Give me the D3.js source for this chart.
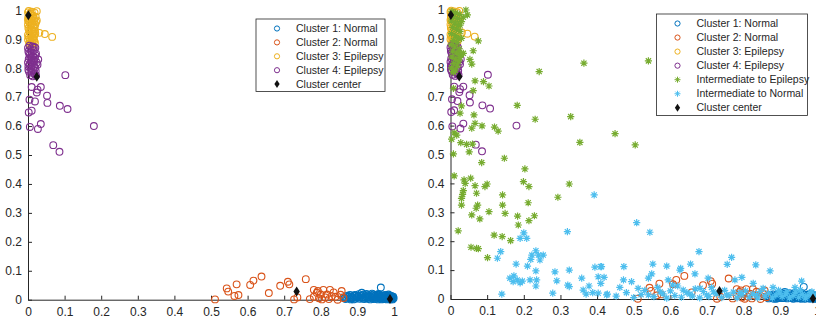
<!DOCTYPE html>
<html>
<head>
<meta charset="utf-8">
<script src="https://cdn.jsdelivr.net/npm/d3@7"></script>
<style>
  body { margin: 0; background: #fff; }
  svg { display: block; font-family: "Liberation Sans", Arial, Helvetica, sans-serif; }
  .axis path, .axis line { stroke: #262626; }
  .axis text { fill: #262626; font-size: 12px; }
</style>
</head>
<body>
<div id="chart"></div>
<script>
// ---- data ----
var tickValues = [0, 0.1, 0.2, 0.3, 0.4, 0.5, 0.6, 0.7, 0.8, 0.9, 1];
var tickLabels = ["0", "0.1", "0.2", "0.3", "0.4", "0.5", "0.6", "0.7", "0.8", "0.9", "1"];

var cluster1 = [ // Normal (blue)
  [0.862,0.008],[0.868,0.002],[0.873,0.014],[0.879,0.005],[0.884,0.011],[0.889,0.001],[0.893,0.016],[0.897,0.007],
  [0.902,0.012],[0.906,0.003],[0.911,0.015],[0.915,0.008],[0.919,0.002],[0.923,0.013],[0.927,0.006],[0.931,0.010],
  [0.935,0.001],[0.939,0.015],[0.942,0.006],[0.946,0.011],[0.950,0.003],[0.953,0.009],[0.957,0.014],[0.960,0.004],
  [0.963,0.010],[0.966,0.001],[0.969,0.007],[0.972,0.012],[0.975,0.003],[0.978,0.009],[0.981,0.001],[0.984,0.006],
  [0.987,0.011],[0.990,0.003],[0.993,0.007],[0.996,0.001],[0.999,0.005],[0.998,0.010],[0.992,0.013],[0.985,0.015],
  [0.976,0.016],[0.968,0.014],[0.955,0.017],[0.944,0.018],[0.930,0.016],[0.917,0.018],[0.904,0.019],[0.891,0.013],
  [0.880,0.016],[0.870,0.009],[0.964,0.042],[0.912,0.024],[0.925,0.020],[0.940,0.021],[0.958,0.020],[0.985,0.018],
  [0.865,0.005],[0.876,0.010],[0.886,0.006],[0.895,0.003],[0.900,0.009],[0.908,0.013],[0.913,0.004],[0.921,0.009],
  [0.929,0.003],[0.933,0.013],[0.937,0.007],[0.944,0.002],[0.948,0.014],[0.952,0.007],[0.956,0.001],[0.959,0.011],
  [0.962,0.016],[0.965,0.005],[0.971,0.002],[0.974,0.015],[0.977,0.006],[0.980,0.013],[0.983,0.003],[0.986,0.009],
  [0.989,0.014],[0.991,0.001],[0.995,0.011],[0.997,0.006],[0.882,0.001],[0.898,0.015]
];
var cluster2 = [ // Normal (orange)
  [0.511,0.001],[0.543,0.039],[0.547,0.028],[0.570,0.053],[0.564,0.013],[0.575,0.016],[0.607,0.051],[0.616,0.066],
  [0.638,0.080],[0.658,0.023],[0.689,0.048],[0.710,0.062],[0.714,0.053],[0.727,0.001],[0.736,0.008],[0.759,0.071],
  [0.781,0.034],[0.789,0.024],[0.781,0.010],[0.795,0.005],[0.800,0.018],[0.807,0.034],[0.812,0.008],[0.817,0.018],
  [0.825,0.034],[0.830,0.012],[0.840,0.010],[0.846,0.000],[0.854,0.017],[0.857,0.030],[0.862,0.006],[0.792,0.030],
  [0.803,0.001],[0.822,0.002],[0.835,0.025],[0.770,0.002]
];
var cluster3 = [ // Epilepsy (yellow)
  [0.002,0.998],[0.010,0.995],[0.018,0.992],[0.005,0.985],[0.014,0.981],[0.021,0.978],[0.001,0.972],[0.009,0.968],
  [0.017,0.964],[0.004,0.958],[0.012,0.955],[0.020,0.951],[0.007,0.946],[0.015,0.942],[0.001,0.938],[0.011,0.934],
  [0.019,0.930],[0.004,0.925],[0.013,0.921],[0.008,0.916],[0.017,0.912],[0.002,0.908],[0.010,0.904],[0.015,0.899],
  [0.005,0.895],[0.012,0.891],[0.019,0.888],[0.003,0.884],[0.009,0.880],[0.014,0.877],[0.006,0.990],[0.013,0.975],
  [0.003,0.962],[0.016,0.948],[0.008,0.929],[0.018,0.918],[0.006,0.901],[0.011,0.886],[0.000,0.950],[0.000,0.915],
  [0.000,0.993],[0.008,0.983],[0.016,0.971],[0.000,0.965],[0.007,0.953],[0.018,0.940],[0.003,0.932],[0.014,0.926],
  [0.000,0.899],[0.017,0.895],[0.007,0.889],[0.013,0.906],[0.020,0.920],[0.001,0.978],[0.022,0.960],
  [0.024,0.997],[0.024,0.965],[0.031,0.922],[0.046,0.918],[0.066,0.908]
];
var cluster4 = [ // Epilepsy (purple)
  [0.004,0.878],[0.012,0.875],[0.020,0.871],[0.007,0.866],[0.016,0.862],[0.001,0.858],[0.010,0.854],[0.022,0.850],
  [0.005,0.846],[0.014,0.842],[0.019,0.836],[0.002,0.832],[0.009,0.828],[0.017,0.824],[0.024,0.820],[0.006,0.815],
  [0.013,0.811],[0.001,0.806],[0.020,0.802],[0.008,0.798],[0.015,0.793],[0.003,0.788],[0.011,0.784],[0.018,0.780],
  [0.006,0.776],[0.013,0.772],[0.028,0.830],[0.026,0.812],[0.000,0.820],[0.010,0.840],[0.021,0.790],
  [0.000,0.870],[0.016,0.873],[0.003,0.851],[0.020,0.845],[0.011,0.821],[0.004,0.810],[0.017,0.806],[0.009,0.790],
  [0.022,0.775],[0.001,0.795],[0.015,0.830],[0.006,0.836],
  [0.102,0.776],[0.010,0.735],[0.035,0.735],[0.026,0.726],[0.024,0.716],[0.052,0.705],[0.004,0.691],[0.019,0.685],
  [0.053,0.680],[0.087,0.670],[0.108,0.659],[0.010,0.653],[0.002,0.647],[0.005,0.597],[0.035,0.607],[0.027,0.590],
  [0.180,0.600],[0.069,0.534],[0.086,0.511]
];
var interEpilepsy = [ // green asterisks
  [0.004,0.995],[0.014,0.990],[0.024,0.985],[0.008,0.976],[0.019,0.970],[0.002,0.962],[0.012,0.955],[0.022,0.948],
  [0.006,0.940],[0.016,0.933],[0.026,0.926],[0.003,0.918],[0.013,0.911],[0.021,0.903],[0.008,0.895],[0.018,0.888],
  [0.002,0.880],[0.012,0.872],[0.024,0.866],[0.006,0.858],[0.017,0.851],[0.028,0.845],[0.004,0.838],[0.014,0.830],
  [0.022,0.823],[0.009,0.815],[0.019,0.807],[0.003,0.800],[0.013,0.792],[0.008,0.785],[0.030,0.960],[0.035,0.975],
  [0.030,0.850],[0.025,0.835],
  [0.042,1.000],[0.046,0.983],[0.026,0.948],[0.030,0.902],[0.076,0.893],[0.062,0.859],[0.035,0.850],[0.053,0.829],
  [0.058,0.813],[0.008,0.787],[0.242,0.787],[0.364,0.816],[0.540,0.824],[0.067,0.755],[0.090,0.752],[0.105,0.737],
  [0.008,0.729],[0.062,0.721],[0.182,0.670],[0.030,0.668],[0.026,0.643],[0.064,0.637],[0.231,0.622],[0.328,0.631],
  [0.067,0.608],[0.086,0.599],[0.058,0.591],[0.120,0.595],[0.130,0.581],[0.449,0.572],[0.010,0.575],[0.017,0.567],
  [0.003,0.553],[0.028,0.541],[0.044,0.535],[0.060,0.536],[0.353,0.542],[0.504,0.533],[0.051,0.509],[0.008,0.502],
  [0.085,0.472],[0.147,0.487],[0.203,0.450],[0.010,0.426],[0.037,0.412],[0.055,0.418],[0.040,0.400],[0.067,0.392],
  [0.100,0.398],[0.094,0.389],[0.199,0.406],[0.214,0.389],[0.324,0.398],[0.035,0.375],[0.033,0.362],[0.071,0.366],
  [0.142,0.360],[0.030,0.348],[0.293,0.352],[0.212,0.333],[0.142,0.325],[0.030,0.325],[0.074,0.325],[0.070,0.314],
  [0.105,0.302],[0.149,0.296],[0.058,0.291],[0.183,0.287],[0.229,0.288],[0.080,0.277],[0.185,0.256],[0.214,0.271],
  [0.021,0.236],[0.119,0.221],[0.141,0.216],[0.164,0.202],[0.056,0.179],[0.071,0.175],[0.076,0.174],[0.101,0.143]
];
var interNormal = [ // light blue asterisks
  [0.392,0.360],[0.200,0.229],[0.208,0.210],[0.190,0.210],[0.319,0.233],[0.137,0.164],[0.128,0.141],[0.233,0.167],
  [0.222,0.152],[0.240,0.152],[0.253,0.152],[0.244,0.135],[0.219,0.137],[0.210,0.114],[0.179,0.121],[0.233,0.097],
  [0.162,0.072],[0.173,0.080],[0.182,0.066],[0.171,0.060],[0.190,0.056],[0.196,0.062],[0.217,0.066],[0.235,0.066],
  [0.233,0.045],[0.140,0.017],[0.285,0.094],[0.290,0.063],[0.324,0.100],[0.324,0.043],[0.320,0.048],[0.279,0.020],
  [0.358,0.072],[0.362,0.031],[0.370,0.017],[0.378,0.045],[0.394,0.110],[0.410,0.112],[0.403,0.077],[0.419,0.075],
  [0.410,0.054],[0.388,0.022],[0.403,0.020],[0.428,0.017],
  [0.508,0.264],[0.544,0.231],[0.678,0.164],[0.767,0.144],[0.755,0.120],[0.552,0.121],[0.473,0.112],[0.412,0.112],
  [0.655,0.121],[0.628,0.106],[0.590,0.114],[0.833,0.118],[0.872,0.097],[0.795,0.075],[0.776,0.066],[0.703,0.072],
  [0.667,0.087],[0.549,0.087],[0.540,0.072],[0.472,0.066],[0.494,0.060],[0.462,0.040],[0.426,0.014],[0.512,0.037],
  [0.626,0.100],[0.594,0.066],[0.606,0.048],[0.635,0.031],[0.681,0.037],[0.717,0.025],[0.826,0.054],[0.853,0.037],
  [0.958,0.062],[0.954,0.031],[0.899,0.020],[0.835,0.014],[0.754,0.014],[0.790,0.022],[0.572,0.025],[0.540,0.014],
  [0.653,0.017],[0.699,0.014],[0.918,0.025],[0.986,0.025],
  [0.452,0.010],[0.480,0.022],[0.500,0.005],[0.520,0.015],[0.530,0.030],[0.555,0.008],[0.565,0.040],[0.580,0.018],
  [0.590,0.003],[0.600,0.028],[0.612,0.012],[0.620,0.045],[0.630,0.006],[0.645,0.022],[0.660,0.010],[0.668,0.035],
  [0.680,0.004],[0.690,0.026],[0.705,0.008],[0.712,0.040],[0.725,0.018],[0.740,0.005],[0.748,0.030],[0.760,0.012],
  [0.772,0.024],[0.782,0.004],[0.795,0.015],[0.805,0.028],[0.815,0.006],[0.825,0.018],[0.838,0.004],[0.845,0.026],
  [0.858,0.010],[0.868,0.020],[0.878,0.004],[0.888,0.014],[0.895,0.030],[0.905,0.008],[0.915,0.018],[0.925,0.004],
  [0.935,0.012],[0.942,0.024],[0.950,0.006],[0.960,0.016],[0.968,0.003],[0.975,0.012],[0.982,0.022],[0.990,0.008],
  [0.997,0.015],[0.940,0.040],[0.880,0.040]
];
var centers = [[0.989,0.002],[0.734,0.028],[0.001,0.983],[0.024,0.770]];

var legendLeft = ["Cluster 1: Normal", "Cluster 2: Normal", "Cluster 3: Epilepsy", "Cluster 4: Epilepsy", "Cluster center"];
var legendRight = ["Cluster 1: Normal", "Cluster 2: Normal", "Cluster 3: Epilepsy", "Cluster 4: Epilepsy",
                   "Intermediate to Epilepsy", "Intermediate to Normal", "Cluster center"];

// MATLAB default colours
var colors = {
  c1: "#0072BD", c2: "#D95319", c3: "#EDB120", c4: "#7E2F8E",
  ie: "#77AC30", in: "#4DBEEE", center: "#111111"
};

var svg = d3.select("#chart").append("svg")
  .attr("width", 816)
  .attr("height", 324);

var asteriskPath = "M-3.6,0H3.6M0,-3.6V3.6M-2.6,-2.6L2.6,2.6M-2.6,2.6L2.6,-2.6";
var diamondPath = "M0,-5L3.2,0L0,5L-3.2,0Z";

function drawPanel(cfg) {
  var x = d3.scaleLinear().domain([0, 1]).range([cfg.x0, cfg.x1]);
  var y = d3.scaleLinear().domain([0, 1]).range([cfg.y0, cfg.y1]);
  var g = svg.append("g");

  var xAxis = d3.axisBottom(x).tickValues(tickValues)
    .tickFormat((d, i) => tickLabels[i]).tickSizeInner(-4).tickSizeOuter(0).tickPadding(7);
  var yAxis = d3.axisLeft(y).tickValues(tickValues)
    .tickFormat((d, i) => tickLabels[i]).tickSizeInner(-4).tickSizeOuter(0).tickPadding(6);

  g.append("g").attr("class", "axis x")
    .attr("transform", `translate(0,${cfg.y0})`)
    .call(xAxis);
  g.append("g").attr("class", "axis y")
    .attr("transform", `translate(${cfg.x0},0)`)
    .call(yAxis);
  g.selectAll(".axis text").attr("font-family", null);
  g.selectAll(".axis.x text").attr("dy", "0.75em");

  // clusters as open circles
  [[cluster1, colors.c1], [cluster2, colors.c2], [cluster3, colors.c3], [cluster4, colors.c4]].forEach(function (s) {
    g.append("g").selectAll("circle")
      .data(s[0])
      .enter().append("circle")
      .attr("cx", d => x(d[0]))
      .attr("cy", d => y(d[1]))
      .attr("r", 3.4)
      .style("fill", "none")
      .style("stroke", s[1])
      .style("stroke-width", 1.1);
  });

  // intermediate points as asterisks
  if (cfg.intermediate) {
    [[interEpilepsy, colors.ie], [interNormal, colors.in]].forEach(function (s) {
      g.append("g").selectAll("path")
        .data(s[0])
        .enter().append("path")
        .attr("d", asteriskPath)
        .attr("transform", d => `translate(${x(d[0])},${y(d[1])})`)
        .style("fill", "none")
        .style("stroke", s[1])
        .style("stroke-width", 1.2);
    });
  }

  // cluster centres
  g.append("g").selectAll("path")
    .data(centers)
    .enter().append("path")
    .attr("d", diamondPath)
    .attr("transform", d => `translate(${x(d[0])},${y(d[1])})`)
    .style("fill", colors.center);

  // legend
  var items = cfg.legend;
  var lg = g.append("g");
  lg.append("rect")
    .attr("x", cfg.lx).attr("y", cfg.ly)
    .attr("width", cfg.lw).attr("height", cfg.lh)
    .style("fill", "#fff").style("stroke", "#262626").style("stroke-width", 0.8);
  var keys = cfg.intermediate ? ["c1", "c2", "c3", "c4", "ie", "in", "center"] : ["c1", "c2", "c3", "c4", "center"];
  var row = lg.selectAll(".row")
    .data(items)
    .enter().append("g")
    .attr("class", "row")
    .attr("transform", (d, i) => `translate(${cfg.lx + 21},${cfg.ly + 9.5 + i * cfg.step})`);
  row.each(function (d, i) {
    var r = d3.select(this), k = keys[i];
    if (k === "center") {
      r.append("path").attr("d", "M0,-4L2.6,0L0,4L-2.6,0Z").style("fill", colors.center);
    } else if (k === "ie" || k === "in") {
      r.append("path").attr("d", "M-3,0H3M0,-3V3M-2.1,-2.1L2.1,2.1M-2.1,2.1L2.1,-2.1")
        .style("fill", "none").style("stroke", colors[k]).style("stroke-width", 1);
    } else {
      r.append("circle").attr("r", 2.6).style("fill", "none").style("stroke", colors[k]).style("stroke-width", 1);
    }
    r.append("text")
      .attr("x", 19).attr("dy", "0.35em")
      .style("font-size", "10.5px").style("fill", "#262626")
      .text(d);
  });
}

drawPanel({
  x0: 28, x1: 394, y0: 299.7, y1: 10.3, intermediate: false,
  legend: legendLeft, lx: 256, ly: 19, lw: 129, lh: 72.5, step: 13.9
});
drawPanel({
  x0: 450.5, x1: 817, y0: 299, y1: 10, intermediate: true,
  legend: legendRight, lx: 656.5, ly: 14, lw: 151, lh: 101.5, step: 14.05
});
</script>
</body>
</html>
